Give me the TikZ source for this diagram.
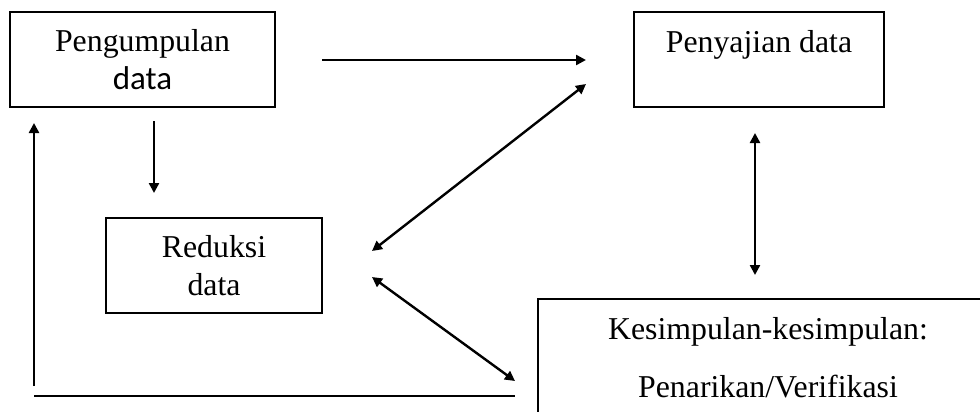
\documentclass[tikz,border=0pt]{standalone}
\usepackage{fontspec}
\setmainfont{Liberation Serif}
\newfontfamily\calib{Carlito}
\usetikzlibrary{arrows.meta}
\tikzset{
  box/.style={draw=black, line width=1.8pt, inner sep=0pt, align=center,
    font=\fontsize{31.8}{38}\selectfont},
  conn/.style={line width=2.4pt, -{Triangle[length=10pt,width=10pt]}},
  conn2/.style={line width=2.4pt, {Triangle[length=10pt,width=10pt]}-{Triangle[length=10pt,width=10pt]}},
  plain/.style={line width=2.4pt},
}
\begin{document}
\begin{tikzpicture}[x=1pt,y=-1pt]
\useasboundingbox (0,0) rectangle (980,412);
\clip (0,0) rectangle (980,412);
\fill[white] (0,0) rectangle (980,412);
% boxes
\node[box, minimum width=265pt, minimum height=95pt] (kump) at (142.5,59.5)
  {Pengumpulan\\{\calib\fontsize{33}{38}\selectfont data}};
\node[box, minimum width=250pt, text height=41pt, text depth=54pt, anchor=base] (saji) at (759,53)
  {Penyajian data};
\node[box, minimum width=216pt, minimum height=95pt] (redu) at (214,265.5)
  {Reduksi\\data};
\node[box, minimum width=460pt, minimum height=118pt, font=\fontsize{31.8}{58}\selectfont] (simp) at (768,358)
  {Kesimpulan-kesimpulan:\\Penarikan/Verifikasi};
% coordinates
\coordinate (a1s) at (322,60);
\coordinate (a1e) at (586,60);
\coordinate (a2s) at (154,121);
\coordinate (a2e) at (154,193);
\coordinate (a3s) at (586,84);
\coordinate (a3e) at (372,251);
\coordinate (a4s) at (372,277);
\coordinate (a4e) at (515,381);
\coordinate (a5s) at (755,133);
\coordinate (a5e) at (755,275);
\coordinate (a6s) at (34,386);
\coordinate (a6e) at (34,123);
\coordinate (l1s) at (34,396);
\coordinate (l1e) at (515,396);
% connectors
\draw[conn] (a1s) -- (a1e);
\draw[conn] (a2s) -- (a2e);
\draw[conn2] (a3s) -- (a3e);
\draw[conn2] (a4s) -- (a4e);
\draw[conn2] (a5s) -- (a5e);
\draw[conn] (a6s) -- (a6e);
\draw[plain] (l1s) -- (l1e);
\end{tikzpicture}
\end{document}
